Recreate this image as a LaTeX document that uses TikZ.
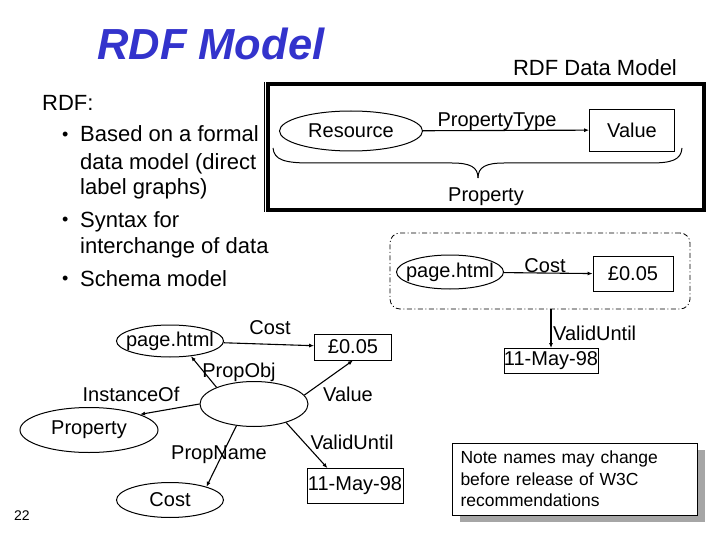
\documentclass[tikz,border=0pt]{standalone}
\usepackage{fontspec}
\setmainfont{Liberation Sans}
\usetikzlibrary{shapes.geometric,arrows.meta,shadows}
\definecolor{titleblue}{RGB}{51,51,204}

\begin{document}
\begin{tikzpicture}[x=1pt,y=-1pt,
  lbl/.style={inner sep=0pt,font=\fontsize{20}{24}\selectfont},
  bul/.style={anchor=base west,inner sep=0pt,font=\fontsize{22}{26}\selectfont},
  dot/.style={anchor=base west,inner sep=0pt,font=\fontsize{18}{21}\selectfont},
  oval/.style={draw,ellipse,line width=1pt,inner xsep=-14pt,inner ysep=0pt,font=\fontsize{20}{24}\selectfont},
  valbox/.style={draw,rectangle,line width=0.8pt,inner sep=0pt,font=\fontsize{20}{24}\selectfont},
  link/.style={line width=1.1pt,-{Latex[length=5pt,width=4pt]}}]
				\useasboundingbox (0,0) rectangle (720,540);
				\node[anchor=base west,inner sep=0pt,text=titleblue,font=\fontsize{43.5}{48}\selectfont\bfseries\itshape] (title) at (97,60) {RDF Model};
				\node[lbl,font=\fontsize{22}{26}\selectfont] (dm) at (595,68) {RDF Data Model};
				\node[bul] (rdf) at (42,111) {RDF:};
				\node[dot] (d1) at (62,140.5) {•};
				\node[bul] (b1) at (80,142) {Based on a formal};
				\node[bul] (b2) at (80,170) {data model (direct};
				\node[bul] (b3) at (80,195) {label graphs)};
				\node[dot] (d2) at (62,225.5) {•};
				\node[bul] (b4) at (80,227) {Syntax for};
				\node[bul] (b5) at (80,254) {interchange of data};
				\node[dot] (d3) at (62,284.5) {•};
				\node[bul] (b6) at (80,286) {Schema model};
				\draw[line width=4pt] (268,84) rectangle (704,210);
				\draw[line width=0.6pt] (264,82) -- (264,212);
				\node[oval,minimum width=143pt,minimum height=40pt] (res) at (351,131) {Resource};
				\node[valbox,minimum width=85pt,minimum height=42pt] (val) at (632,130) {Value};
				\draw[link] (res) -- (val);
				\node[lbl] (ptype) at (497,122) {PropertyType};
				\draw[line width=1pt] (273,148) .. controls (274,160) and (285,163) .. (310,163) -- (452,163) .. controls (470,163) and (478,167) .. (478,178);
				\draw[line width=1pt] (478,178) .. controls (478,167) and (486,163) .. (504,163) -- (650,163) .. controls (672,163) and (681,160) .. (682,148);
				\node[lbl] (prop) at (486,197) {Property};
				\node[draw,dash pattern=on 5pt off 2.5pt on 1pt off 2.5pt,rounded corners=10pt,line width=0.8pt,minimum width=300pt,minimum height=76pt,inner sep=0pt] (grp) at (540,271) {};
				\node[oval,minimum width=107pt,minimum height=34pt] (pg2) at (450,272) {page.html};
				\node[valbox,minimum width=80pt,minimum height=35pt] (lb2) at (633,274) {£0.05};
				\draw[link] (pg2) -- (lb2);
				\node[lbl] (cost2) at (545,266) {Cost};
				\node[valbox,minimum width=94pt,minimum height=25pt] (may2) at (551,361) {11-May-98};
				\draw[link] (may2.north |- grp.south) -- (may2.north);
				\node[lbl,anchor=west] (vu2) at (553,333) {ValidUntil};
				\node[oval,minimum width=107pt,minimum height=32pt] (pg1) at (170,341) {page.html};
				\node[valbox,minimum width=77pt,minimum height=26pt] (lb1) at (353,347) {£0.05};
				\node[oval,minimum width=108pt,minimum height=45pt] (st) at (254,404) {};
				\node[oval,minimum width=138pt,minimum height=45pt] (prop1) at (89,430) {Property};
				\node[oval,minimum width=107pt,minimum height=35pt] (cost1) at (170,500) {Cost};
				\node[valbox,minimum width=96pt,minimum height=35pt] (may1) at (355,486) {11-May-98};
				\draw[link] (pg1) -- (lb1);
				\draw[link] (st.156) -- (pg1.-36);
				\draw[link] (st.180) -- (prop1.17);
				\draw[link] (st.10) -- (lb1.south);
				\draw[link] (st.-30) -- (may1.147);
				\draw[link] (st.-129) -- (cost1.20);
				\node[lbl] (l1) at (270,328) {Cost};
				\node[lbl] (l2) at (239,372) {PropObj};
				\node[lbl] (l3) at (131,394) {InstanceOf};
				\node[lbl] (l4) at (348,394) {Value};
				\node[lbl] (l5) at (352,442) {ValidUntil};
				\node[lbl] (l6) at (219,455) {PropName};
				\node[inner sep=0pt,font=\fontsize{14}{16}\selectfont] (pgno) at (22,516) {22};
				\node[draw,fill=white,line width=0.8pt,general shadow={fill=gray!70,shadow xshift=7pt,shadow yshift=-7pt},minimum width=245pt,minimum height=72pt,text width=229pt,inner xsep=8pt,align=left,font=\fontsize{17.5}{21.5}\selectfont] (note) at (575,479) {Note names may change\\before release of W3C\\recommendations};
			\end{tikzpicture}
\end{document}
